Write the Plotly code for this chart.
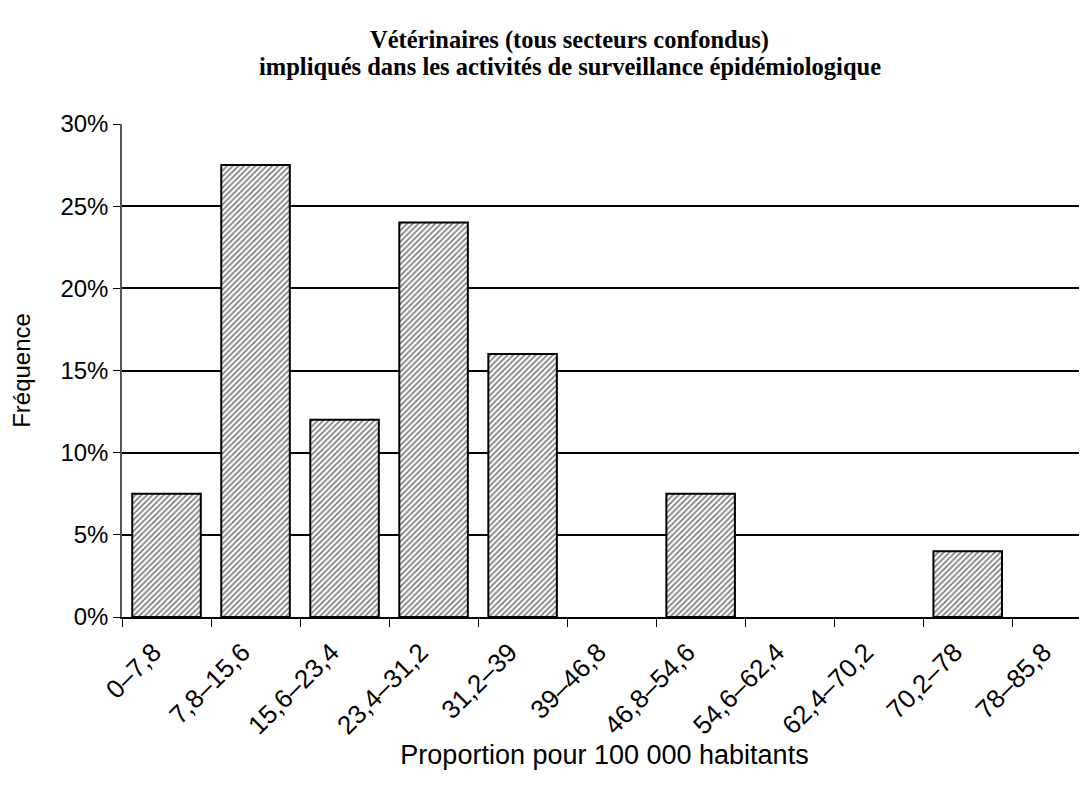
import plotly.graph_objects as go

categories = ["0–7,8", "7,8–15,6", "15,6–23,4", "23,4–31,2", "31,2–39", "39–46,8",
              "46,8–54,6", "54,6–62,4", "62,4–70,2", "70,2–78", "78–85,8"]
frequencies = [0.075, 0.275, 0.12, 0.24, 0.16, 0.0, 0.075, 0.0, 0.0, 0.04, 0.0]
y_ticks = [0, 0.05, 0.10, 0.15, 0.20, 0.25, 0.30]
y_tick_labels = ["0%", "5%", "10%", "15%", "20%", "25%", "30%"]
title_lines = ["Vétérinaires (tous secteurs confondus)",
               "impliqués dans les activités de surveillance épidémiologique"]

bar_values = [v if v > 0 else None for v in frequencies]

fig = go.Figure()
fig.add_trace(go.Bar(
    x=categories, y=bar_values, width=0.77,
    marker=dict(color="white",
                line=dict(color="black", width=2),
                pattern=dict(shape="/", fgcolor="black", bgcolor="white", size=4, solidity=0.45)),
))

sans = "Liberation Sans, Arial"
serif = "Liberation Serif, Times New Roman"

for line, ypos in zip(title_lines, [1.1704, 1.1176]):
    fig.add_annotation(text="<b>" + line + "</b>", xref="paper", yref="paper",
                       x=0.464, y=ypos, xanchor="center", yanchor="middle",
                       showarrow=False,
                       font=dict(family=serif, size=24.5, color="black"))

fig.update_layout(
    width=1079, height=779,
    paper_bgcolor="white", plot_bgcolor="white",
    margin=dict(l=114, r=0, t=116, b=170, autoexpand=False),
    showlegend=False,
    font=dict(family=sans, size=24, color="black"),
    xaxis=dict(type="category", range=[-0.5, 10.34], tickangle=-45, automargin=False,
               tickfont=dict(family=sans, size=26, color="black"),
               ticks="outside", tickson="boundaries", ticklen=8, tickcolor="black",
               ticklabelshift=-13, ticklabelstandoff=8,
               showline=True, linecolor="black", linewidth=1.5,
               showgrid=False,
               title=dict(text="Proportion pour 100 000 habitants", standoff=0,
                          font=dict(family=sans, size=27))),
    yaxis=dict(range=[0, 0.30], tickvals=y_ticks, ticktext=y_tick_labels, automargin=False,
               tickfont=dict(family=sans, size=24, color="black"),
               ticks="outside", ticklen=7, tickcolor="black",
               showline=True, linecolor="#555555", linewidth=1.5,
               showgrid=True, gridcolor="black", gridwidth=1.5,
               zeroline=False,
               title=dict(text="Fréquence", standoff=24, font=dict(family=sans, size=24))),
)

fig.write_html("out.html")
